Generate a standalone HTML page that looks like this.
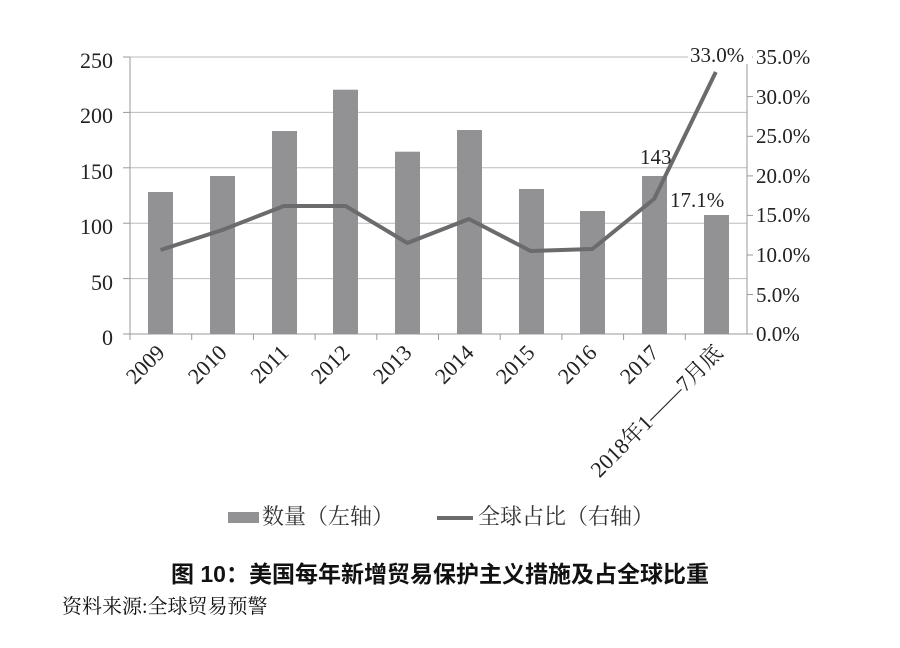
<!DOCTYPE html>
<html><head><meta charset="utf-8"><style>body{margin:0;background:#fff}svg{display:block}</style></head><body>
<svg width="900" height="648" viewBox="0 0 900 648" xmlns="http://www.w3.org/2000/svg" font-family="'Liberation Serif','Noto Serif CJK SC',serif">
<g stroke="#bbb" stroke-width="1">
<line x1="130" y1="57" x2="747" y2="57"/><line x1="130" y1="112.4" x2="747" y2="112.4"/><line x1="130" y1="167.8" x2="747" y2="167.8"/><line x1="130" y1="223.2" x2="747" y2="223.2"/><line x1="130" y1="278.6" x2="747" y2="278.6"/>
</g>
<g stroke="#999" stroke-width="1">
<line x1="130" y1="57" x2="130" y2="340"/><line x1="747" y1="57" x2="747" y2="334"/><line x1="123" y1="334" x2="753" y2="334"/>
<line x1="123" y1="57" x2="130" y2="57"/><line x1="123" y1="112.4" x2="130" y2="112.4"/><line x1="123" y1="167.8" x2="130" y2="167.8"/><line x1="123" y1="223.2" x2="130" y2="223.2"/><line x1="123" y1="278.6" x2="130" y2="278.6"/>
<line x1="747" y1="57" x2="753" y2="57"/><line x1="747" y1="96.6" x2="753" y2="96.6"/><line x1="747" y1="136.3" x2="753" y2="136.3"/><line x1="747" y1="175.9" x2="753" y2="175.9"/><line x1="747" y1="215.4" x2="753" y2="215.4"/><line x1="747" y1="255" x2="753" y2="255"/><line x1="747" y1="294.5" x2="753" y2="294.5"/>
<line x1="191.7" y1="334" x2="191.7" y2="340"/><line x1="253.4" y1="334" x2="253.4" y2="340"/><line x1="315.1" y1="334" x2="315.1" y2="340"/><line x1="376.8" y1="334" x2="376.8" y2="340"/><line x1="438.5" y1="334" x2="438.5" y2="340"/><line x1="500.2" y1="334" x2="500.2" y2="340"/><line x1="561.9" y1="334" x2="561.9" y2="340"/><line x1="623.6" y1="334" x2="623.6" y2="340"/><line x1="685.3" y1="334" x2="685.3" y2="340"/>
</g>
<g fill="#929295">
<rect x="148" y="192" width="25" height="142"/><rect x="210" y="176" width="25" height="158"/><rect x="272" y="131" width="25" height="203"/><rect x="333" y="89.7" width="25" height="244.3"/><rect x="395" y="151.7" width="25" height="182.3"/><rect x="457" y="130" width="25" height="204"/><rect x="519" y="189" width="25" height="145"/><rect x="580" y="211" width="25" height="123"/><rect x="642" y="176" width="25" height="158"/><rect x="704" y="215" width="25" height="119"/>
</g>
<polyline fill="none" stroke="#6b6b6d" stroke-width="4" stroke-linejoin="round" points="160.5,250 222.2,230 283.9,206 345.6,206 407.3,243 469,219 530.7,251 592.4,249 654.1,199 715.8,72"/>
<rect x="688" y="42" width="64" height="22" fill="#fff"/>
<g font-size="21" fill="#222">
<text x="690" y="62">33.0%</text>
<text x="640" y="164">143</text>
<text x="670" y="207">17.1%</text>
</g>
<g font-size="22" fill="#222" text-anchor="end">
<text x="113" y="68">250</text><text x="113" y="123">200</text><text x="113" y="179">150</text><text x="113" y="234">100</text><text x="113" y="290">50</text><text x="113" y="345">0</text>
</g>
<g font-size="21" fill="#222">
<text x="756" y="64">35.0%</text><text x="756" y="104">30.0%</text><text x="756" y="143">25.0%</text><text x="756" y="183">20.0%</text><text x="756" y="222">15.0%</text><text x="756" y="262">10.0%</text><text x="756" y="302">5.0%</text><text x="756" y="341">0.0%</text>
</g>
<g font-size="22" fill="#222" text-anchor="end">
<text transform="translate(166,354) rotate(-45)">2009</text>
<text transform="translate(228,354) rotate(-45)">2010</text>
<text transform="translate(290,354) rotate(-45)">2011</text>
<text transform="translate(351,354) rotate(-45)">2012</text>
<text transform="translate(413,354) rotate(-45)">2013</text>
<text transform="translate(475,354) rotate(-45)">2014</text>
<text transform="translate(536,354) rotate(-45)">2015</text>
<text transform="translate(598,354) rotate(-45)">2016</text>
<text transform="translate(660,354) rotate(-45)">2017</text>
<text transform="translate(724,354) rotate(-45)">2018年1——7月底</text>
</g>
</svg>
<style>.lg{position:absolute;font-family:'Liberation Serif','Noto Serif CJK SC',serif;color:#333;line-height:1}</style>
<div style="position:absolute;left:0;top:0;width:900px;height:648px;pointer-events:none">
<div style="position:absolute;left:228px;top:512px;width:31px;height:11px;background:#929295"></div>
<div class="lg" style="left:262px;top:506px;font-size:22px">数量（左轴）</div>
<div style="position:absolute;left:437px;top:516px;width:36px;height:4px;background:#6b6b6d"></div>
<div class="lg" style="left:478px;top:506px;font-size:22px">全球占比（右轴）</div>
<div class="lg" style="left:171px;top:563px;font-size:23px;font-weight:bold;color:#111;font-family:'Liberation Sans','Noto Sans CJK SC',sans-serif">图 10：美国每年新增贸易保护主义措施及占全球比重</div>
<div class="lg" style="left:62px;top:597px;font-size:20px;color:#111">资料来源:全球贸易预警</div>
</div>
</body></html>
